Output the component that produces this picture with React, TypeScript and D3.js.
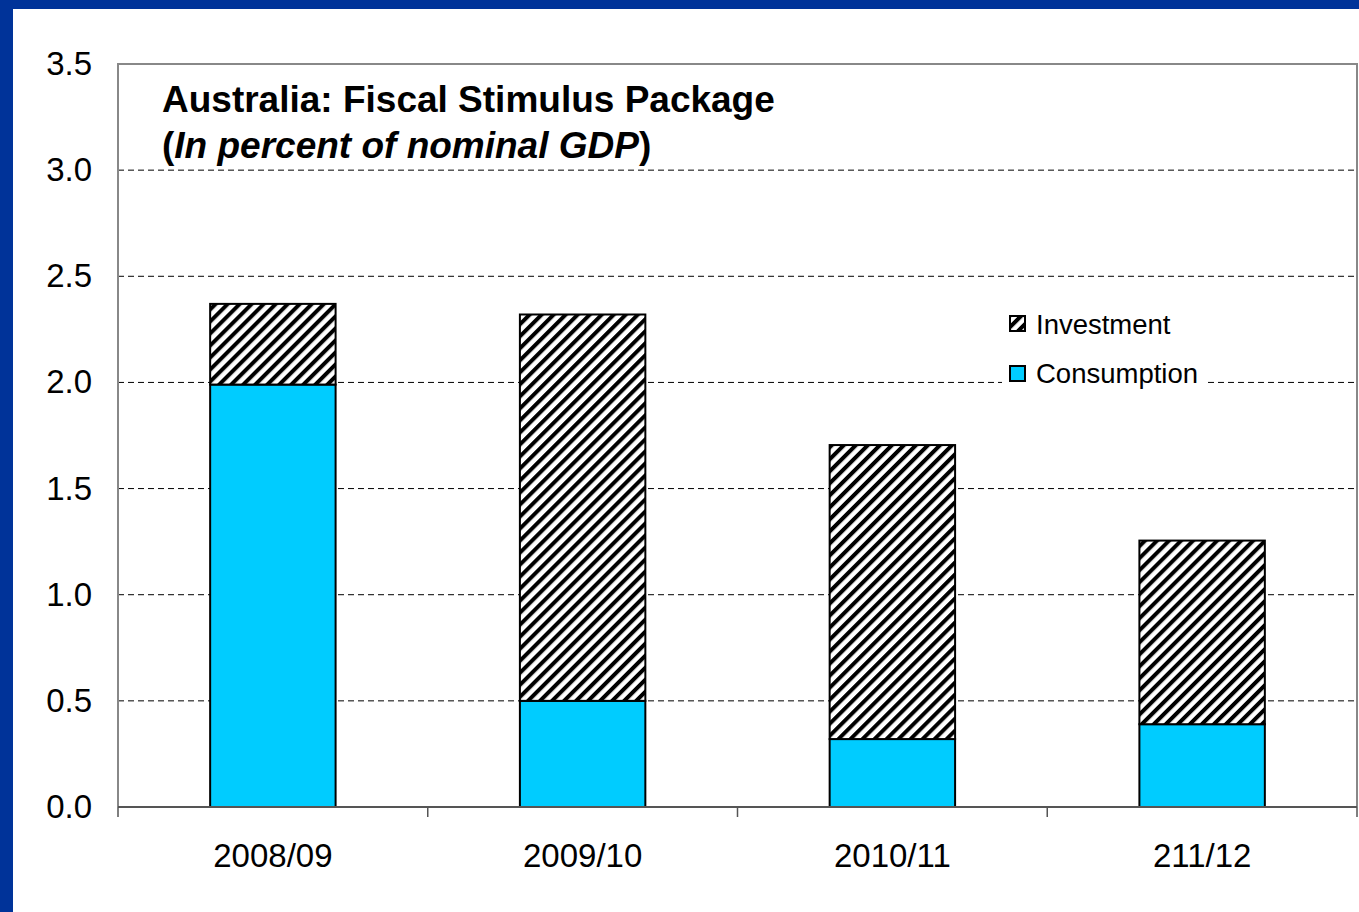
import React from "react";
import * as d3 from "d3";

const categories = ["2008/09", "2009/10", "2010/11", "211/12"];
const consumption = [1.99, 0.5, 0.32, 0.39];
const investment = [0.38, 1.82, 1.385, 0.865];
const yTicks = [0, 0.5, 1.0, 1.5, 2.0, 2.5, 3.0, 3.5];
const seriesNames = ["Investment", "Consumption"];

const W = 1359;
const H = 912;
const plot = { left: 118, top: 64, right: 1357, bottom: 807 };
const FONT = "'Liberation Sans', Arial, Helvetica, sans-serif";

export default function App() {
  const x = d3
    .scaleBand<string>()
    .domain(categories)
    .range([plot.left, plot.right])
    .paddingInner(0)
    .paddingOuter(0);
  const y = d3.scaleLinear().domain([0, 3.5]).range([plot.bottom, plot.top]);
  const barW = x.bandwidth() * 0.405;

  const stacked = categories.map((c, i) => ({
    c,
    cons: [0, consumption[i]],
    inv: [consumption[i], consumption[i] + investment[i]],
  }));

  const boundaries = categories.map((c) => x(c)!).concat([plot.right]);

  return (
    <svg
      width={W}
      height={H}
      style={{ position: "absolute", left: 0, top: 0, background: "#fff" }}
      fontFamily={FONT}
    >
      <defs>
        <pattern
          id="hatch"
          patternUnits="userSpaceOnUse"
          width={8.5}
          height={8.5}
          patternTransform="rotate(45)"
        >
          <rect width={8.5} height={8.5} fill="#fff" />
          <rect x={0} y={0} width={4} height={8.5} fill="#000" />
        </pattern>
      </defs>
      <rect x={0} y={0} width={W} height={H} fill="#fff" />
      {/* blue frame */}
      <rect x={0} y={0} width={W} height={9} fill="#003399" />
      <rect x={0} y={0} width={13} height={H} fill="#003399" />

      {/* gridlines */}
      {yTicks
        .filter((t) => t > 0 && t < 3.5)
        .map((t) => (
          <line
            key={t}
            x1={plot.left}
            x2={plot.right}
            y1={y(t)}
            y2={y(t)}
            stroke="#000"
            strokeWidth={1}
            strokeDasharray="6,4"
          />
        ))}

      {/* plot border */}
      <polyline
        points={`${plot.left},${plot.bottom} ${plot.left},${plot.top} ${plot.right},${plot.top} ${plot.right},${plot.bottom}`}
        fill="none"
        stroke="#888"
        strokeWidth={2}
      />

      {/* bars */}
      {stacked.map((d) => {
        const cx = x(d.c)! + x.bandwidth() / 2;
        return (
          <g key={d.c}>
            <rect
              x={cx - barW / 2}
              y={y(d.cons[1])}
              width={barW}
              height={y(d.cons[0]) - y(d.cons[1])}
              fill="#00CCFF"
              stroke="#000"
              strokeWidth={2}
            />
            <rect
              x={cx - barW / 2}
              y={y(d.inv[1])}
              width={barW}
              height={y(d.inv[0]) - y(d.inv[1])}
              fill="url(#hatch)"
              stroke="#000"
              strokeWidth={2}
            />
          </g>
        );
      })}

      {/* x axis */}
      <line
        x1={plot.left}
        x2={plot.right}
        y1={plot.bottom}
        y2={plot.bottom}
        stroke="#555"
        strokeWidth={2}
      />
      {boundaries.map((b, i) => (
        <line key={i} x1={b} x2={b} y1={plot.bottom} y2={plot.bottom + 10} stroke="#555" strokeWidth={1.5} />
      ))}
      {categories.map((c) => (
        <text
          key={c}
          x={x(c)! + x.bandwidth() / 2}
          y={867}
          textAnchor="middle"
          fontSize={33}
          fill="#000"
        >
          {c}
        </text>
      ))}

      {/* y labels */}
      {yTicks.map((t) => (
        <text key={t} x={92} y={y(t) + 11} textAnchor="end" fontSize={33} fill="#000">
          {d3.format(".1f")(t)}
        </text>
      ))}

      {/* title */}
      <text x={162} y={112} fontSize={37} fontWeight="bold" fill="#000">
        Australia: Fiscal Stimulus Package
      </text>
      <text x={162} y={158} fontSize={37} fontWeight="bold" fill="#000">
        (<tspan fontStyle="italic">In percent of nominal GDP</tspan>)
      </text>

      {/* legend */}
      <rect x={1002} y={302} width={204} height={92} fill="#fff" />
      {seriesNames.map((s, i) => (
        <g key={s}>
          <rect
            x={1010}
            y={316 + i * 50}
            width={15}
            height={15}
            fill={s === "Investment" ? "url(#hatch)" : "#00CCFF"}
            stroke="#000"
            strokeWidth={2}
          />
          <text x={1036} y={334 + i * 49} fontSize={27.5} fill="#000">
            {s}
          </text>
        </g>
      ))}
    </svg>
  );
}
